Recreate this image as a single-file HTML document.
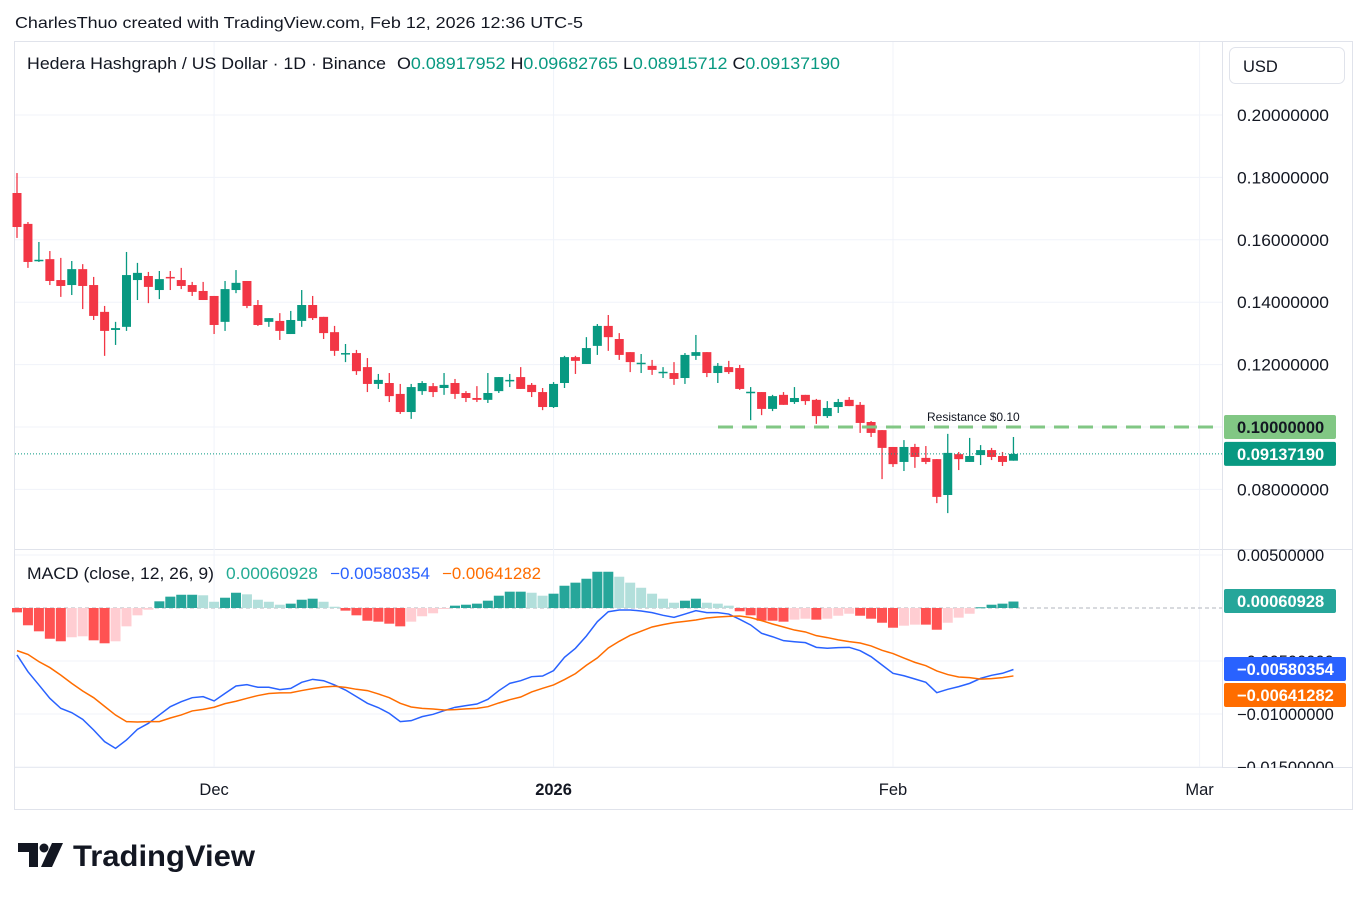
<!DOCTYPE html>
<html><head><meta charset="utf-8">
<style>
html,body{margin:0;padding:0;background:#fff;}
body{width:1367px;height:900px;overflow:hidden;font-family:"Liberation Sans","DejaVu Sans",sans-serif;}
svg text{font-family:"Liberation Sans","DejaVu Sans",sans-serif;}
</style></head>
<body>
<svg id="chart" width="1367" height="900" xmlns="http://www.w3.org/2000/svg">
  <text x="15" y="28" font-size="16" fill="#131722" textLength="568" lengthAdjust="spacingAndGlyphs">CharlesThuo created with TradingView.com, Feb 12, 2026 12:36 UTC-5</text>
  <rect x="14.5" y="41.5" width="1338" height="768" fill="none" stroke="#e0e3eb"/>
  <line x1="1222.5" y1="42" x2="1222.5" y2="767" stroke="#e0e3eb"/>
  <line x1="15" y1="549.5" x2="1352" y2="549.5" stroke="#e0e3eb"/>
  <line x1="15" y1="767.5" x2="1352" y2="767.5" stroke="#e0e3eb"/>
  <g id="grid"></g>
  <g id="macd"></g>
  <g id="candles"></g>
  <g id="overlays"></g>
  <g id="axes"></g>
  <g>
    <text x="27" y="69" font-size="16.5" fill="#131722" textLength="359" lengthAdjust="spacingAndGlyphs">Hedera Hashgraph / US Dollar · 1D · Binance</text>
    <text x="397" y="69" font-size="16.5" fill="#131722" textLength="443" lengthAdjust="spacingAndGlyphs">O<tspan fill="#089981">0.08917952</tspan> H<tspan fill="#089981">0.09682765</tspan> L<tspan fill="#089981">0.08915712</tspan> C<tspan fill="#089981">0.09137190</tspan></text>
  </g>
  <g>
    <text x="27" y="579" font-size="16.5" fill="#131722" textLength="187" lengthAdjust="spacingAndGlyphs">MACD (close, 12, 26, 9)</text>
    <text x="226" y="579" font-size="16.5" fill="#22ab94" textLength="92" lengthAdjust="spacingAndGlyphs">0.00060928</text>
    <text x="330" y="579" font-size="16.5" fill="#2962ff" textLength="100" lengthAdjust="spacingAndGlyphs">−0.00580354</text>
    <text x="442" y="579" font-size="16.5" fill="#ff6d00" textLength="99" lengthAdjust="spacingAndGlyphs">−0.00641282</text>
  </g>
  <g>
    <rect x="1229.5" y="47.5" width="115" height="36" rx="6" fill="#fff" stroke="#e0e3eb"/>
    <text x="1243" y="72" font-size="16.5" fill="#131722">USD</text>
  </g>
  <g>
    <path d="M18 843 H38 V867 H29 V852 H18 Z" fill="#131722"/>
    <circle cx="44" cy="848" r="4.5" fill="#131722"/>
    <path d="M52 843 H63 L52 867 H41 Z" fill="#131722"/>
    <text x="73" y="866" font-size="30" font-weight="bold" fill="#131722" textLength="182" lengthAdjust="spacingAndGlyphs">TradingView</text>
  </g>
</svg>
<script>
const opens=[.1750,.1651,.1535,.1538,.1471,.1455,.1506,.1455,.1369,.1311,.1321,.1471,.1484,.1439,.1481,.1471,.1455,.1436,.1420,.1337,.1439,.1468,.1391,.1337,.1340,.1298,.1340,.1391,.1353,.1304,.1237,.1237,.1192,.1138,.1141,.1106,.1048,.1115,.1131,.1125,.1141,.1109,.1093,.1087,.1115,.1151,.1160,.1135,.1112,.1064,.1141,.1224,.1202,.1260,.1324,.1282,.1240,.1205,.1196,.1176,.1173,.1157,.1228,.1240,.1173,.1192,.1189,.1112,.1112,.1058,.1103,.1080,.1103,.1087,.1035,.1064,.1087,.1071,.1016,.0990,.0936,.0888,.0936,.0901,.0897,.0782,.0913,.0888,.0910,.0926,.0907,.0892];
const highs=[.1814,.1657,.1593,.1564,.1542,.1532,.1522,.1481,.1388,.1337,.1561,.1526,.1497,.1500,.1500,.1510,.1465,.1465,.1420,.1468,.1503,.1468,.1407,.1349,.1365,.1372,.1439,.1420,.1353,.1324,.1266,.1247,.1221,.1170,.1173,.1138,.1138,.1147,.1141,.1173,.1154,.1115,.1131,.1173,.1160,.1170,.1192,.1141,.1125,.1144,.1228,.1228,.1288,.1330,.1359,.1301,.1240,.1234,.1215,.1192,.1208,.1237,.1295,.1240,.1205,.1212,.1199,.1128,.1112,.1103,.1112,.1128,.1103,.1090,.1083,.1090,.1096,.1080,.1019,.0990,.0936,.0958,.0946,.0939,.0897,.0978,.0920,.0965,.0942,.0933,.0920,.0968];
const lows=[.1606,.1510,.1529,.1455,.1417,.1423,.1378,.1343,.1228,.1263,.1308,.1407,.1397,.1410,.1439,.1442,.1420,.1407,.1298,.1308,.1429,.1381,.1324,.1321,.1279,.1298,.1321,.1343,.1282,.1228,.1208,.1167,.1112,.1122,.1080,.1042,.1026,.1103,.1096,.1103,.1090,.1080,.1080,.1077,.1109,.1128,.1122,.1096,.1054,.1061,.1125,.1170,.1202,.1231,.1244,.1215,.1176,.1173,.1167,.1157,.1135,.1138,.1215,.1160,.1141,.1170,.1119,.1022,.1038,.1051,.1071,.1074,.1071,.1010,.1029,.1045,.1067,.0981,.0968,.0833,.0872,.0859,.0869,.0881,.0756,.0724,.0862,.0888,.0878,.0894,.0875,.0892];
const closes=[.1641,.1529,.1536,.1468,.1452,.1506,.1452,.1356,.1308,.1317,.1487,.1494,.1449,.1474,.1478,.1452,.1433,.1407,.1327,.1442,.1462,.1388,.1327,.1349,.1308,.1343,.1391,.1349,.1301,.1244,.1237,.1179,.1138,.1151,.1099,.1048,.1128,.1141,.1112,.1135,.1106,.1093,.1087,.1109,.1160,.1151,.1122,.1112,.1064,.1138,.1224,.1212,.1253,.1324,.1288,.1231,.1208,.1206,.1183,.1177,.1154,.1231,.1240,.1173,.1196,.1176,.1122,.1113,.1058,.1099,.1071,.1093,.1083,.1035,.1061,.1080,.1067,.1013,.0981,.0933,.0881,.0936,.0904,.0888,.0776,.0917,.0897,.0907,.0926,.0904,.0888,.09137];
const macdLine=[-.00443,-.00601,-.00726,-.00852,-.00947,-.00987,-.01050,-.01151,-.01261,-.01324,-.01245,-.01145,-.01088,-.01009,-.00931,-.00884,-.00846,-.00836,-.00877,-.00805,-.00736,-.00723,-.00748,-.00748,-.00770,-.00758,-.00701,-.00673,-.00686,-.00726,-.00774,-.00836,-.00899,-.00940,-.00994,-.01072,-.01063,-.01025,-.01003,-.00969,-.00937,-.00921,-.00906,-.00862,-.00780,-.00711,-.00686,-.00648,-.00642,-.00591,-.00465,-.00380,-.00264,-.00129,-.00035,-.00019,-.00019,-.00028,-.00044,-.00069,-.00088,-.00057,-.00025,-.00044,-.00044,-.00057,-.00107,-.00160,-.00239,-.00271,-.00308,-.00318,-.00327,-.00371,-.00380,-.00374,-.00371,-.00403,-.00459,-.00538,-.00616,-.00639,-.00670,-.00701,-.00799,-.00767,-.00742,-.00711,-.00664,-.00635,-.00616,-.00580];
const histogram=[-.00041,-.00163,-.00220,-.00290,-.00314,-.00276,-.00267,-.00305,-.00333,-.00314,-.00173,-.00069,-.00016,.00063,.00107,.00125,.00125,.00120,.00059,.00097,.00144,.00129,.00078,.00059,.00031,.00041,.00078,.00088,.00059,.00012,-.00025,-.00069,-.00120,-.00129,-.00148,-.00173,-.00129,-.00078,-.00050,-.00007,.00022,.00031,.00041,.00069,.00116,.00154,.00154,.00144,.00116,.00135,.00210,.00239,.00276,.00342,.00342,.00295,.00239,.00191,.00135,.00088,.00050,.00069,.00088,.00050,.00041,.00022,-.00031,-.00069,-.00120,-.00120,-.00129,-.00110,-.00101,-.00110,-.00101,-.00073,-.00054,-.00073,-.00101,-.00139,-.00186,-.00167,-.00157,-.00157,-.00205,-.00139,-.00091,-.00054,.00007,.00031,.00041,.00061];
const priceTicks=[0.20,0.18,0.16,0.14,0.12,0.10,0.08];
const macdTicks=[0.005,-0.005,-0.01,-0.015];
const timeLabels=["Dec","2026","Feb","Mar"];
const timeIndex=[18,49,80,108];
const resistance=0.10;
const lastPrice=0.09137190;

const NS="http://www.w3.org/2000/svg";
const xOf=i=>17+10.95*i;
const yP=p=>427-(p-0.10)*3120;
const yM=v=>608-v*10600;
function mk(parent,tag,attrs){const e=document.createElementNS(NS,tag);for(const k in attrs)e.setAttribute(k,attrs[k]);document.getElementById(parent).appendChild(e);return e;}

priceTicks.forEach(p=>{const l=mk('grid','line',{x1:15,x2:1222,y1:yP(p),y2:yP(p),stroke:'#f0f3fa'});

});
macdTicks.forEach(v=>{const l=mk('grid','line',{x1:15,x2:1222,y1:yM(v),y2:yM(v),stroke:'#f0f3fa'});

});
timeIndex.forEach(i=>{const l=mk('grid','line',{x1:xOf(i),x2:xOf(i),y1:42,y2:767,stroke:'#f0f3fa'});

});

opens.forEach((o,i)=>{const c=closes[i],up=c>=o,col=up?'#089981':'#f23645',x=xOf(i);
const w=mk('candles','line',{x1:x,x2:x,y1:yP(highs[i]),y2:yP(lows[i]),stroke:col,'stroke-width':1.3});


const t=Math.min(yP(o),yP(c)),h=Math.max(1.5,Math.abs(yP(o)-yP(c)));
const b=mk('candles','rect',{x:x-4.5,y:t,width:9,height:h,fill:col});

});

mk('macd','line',{x1:15,x2:1222,y1:608,y2:608,stroke:'#b2b5be','stroke-dasharray':'4 3'});
histogram.forEach((v,i)=>{const prev=i>0?histogram[i-1]:v;let col;
if(v>=0)col=v>=prev?'#26a69a':'#b2dfdb';else col=v<=prev?'#ff5252':'#ffcdd2';
const y0=yM(0),y1=yM(v);
const r=mk('macd','rect',{x:xOf(i)-5,y:Math.min(y0,y1),width:10,height:Math.max(1,Math.abs(y1-y0)),fill:col});

});
const signal=macdLine.map((m,i)=>m-histogram[i]);
const ml=mk('macd','polyline',{points:macdLine.map((v,i)=>xOf(i)+','+yM(v)).join(' '),fill:'none',stroke:'#2962ff','stroke-width':1.5});


const sl=mk('macd','polyline',{points:signal.map((v,i)=>xOf(i)+','+yM(v)).join(' '),fill:'none',stroke:'#ff6d00','stroke-width':1.5});



const rl=mk('overlays','line',{x1:718,x2:1222,y1:yP(resistance),y2:yP(resistance),stroke:'#81c784','stroke-width':3,'stroke-dasharray':'15 9'});


const rt=mk('overlays','text',{x:927,y:yP(resistance)-6,'font-size':12,fill:'#131722'});
rt.textContent='Resistance $0.10';


const lp=mk('overlays','line',{x1:15,x2:1222,y1:yP(lastPrice),y2:yP(lastPrice),stroke:'#089981','stroke-dasharray':'1 2'});



priceTicks.forEach(p=>{if(p===0.10)return;const t=mk('axes','text',{x:1237,y:yP(p)+6,'font-size':16.5,fill:'#131722',textLength:92,lengthAdjust:'spacingAndGlyphs'});
t.textContent=p.toFixed(8);

});
[[0.005,'0.00500000'],[-0.005,'−0.00500000'],[-0.01,'−0.01000000'],[-0.015,'−0.01500000']].forEach(([v,s])=>{const t=mk('axes','text',{x:v<0?1237:1237,y:yM(v)+6,'font-size':16.5,fill:'#131722'});
t.textContent=s;

});
mk('axes','rect',{x:1223,y:768,width:129,height:10,fill:'#fff'});
timeLabels.forEach((s,k)=>{const t=mk('axes','text',{x:xOf(timeIndex[k]),y:795,'font-size':16.5,fill:'#131722','text-anchor':'middle','font-weight':s==='2026'?'bold':'normal'});
t.textContent=s;

});
function badge(y,txt,bg,fg,name,w){const r=mk('axes','rect',{x:1224,y:y-12,width:w||112,height:24,rx:2,fill:bg});


const t=mk('axes','text',{x:1237,y:y+6,'font-size':16.5,fill:fg,'font-weight':'bold'});
t.textContent=txt;

}
badge(yP(resistance),'0.10000000','#81c784','#131722','resistance-price-badge');
badge(yP(lastPrice),'0.09137190','#089981','#fff','last-price-badge');
badge(601,'0.00060928','#26a69a','#fff','histogram-badge');
badge(669,'−0.00580354','#2962ff','#fff','macd-badge',122);
badge(695,'−0.00641282','#ff6d00','#fff','signal-badge',122);
</script>
</body></html>
